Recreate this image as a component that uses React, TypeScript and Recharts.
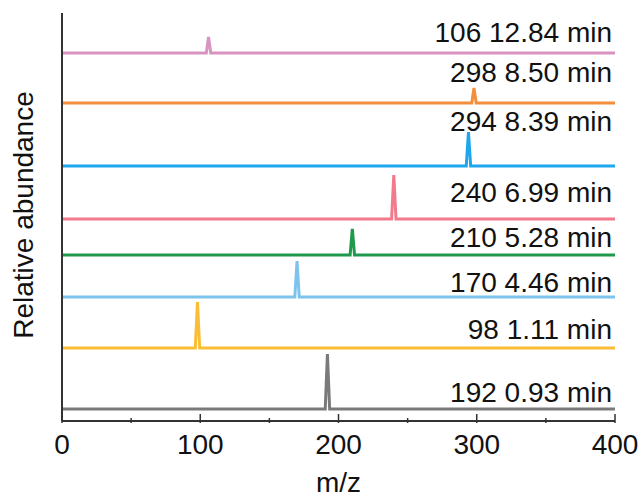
import React from 'react';
import {
  LineChart,
  Line,
  XAxis,
  YAxis,
  ReferenceDot,
  Label,
} from 'recharts';

// stacked mass spectra, bottom trace first
const peakMz = [192, 98, 170, 210, 240, 294, 298, 106];
const retentionMin = ['0.93', '1.11', '4.46', '5.28', '6.99', '8.39', '8.50', '12.84'];
const baselines = [12, 73, 124, 166, 202, 255, 318, 368];
const peakHeights = [55, 46, 36, 26, 44, 34, 15, 16];
const labelLevels = [29, 92, 139, 184, 229, 300, 349, 389];
const colors = ['#7a7a7a', '#fbbd35', '#7cc4ec', '#1f9a4c', '#f27a8c', '#1ea7ee', '#f28e3c', '#d993c0'];
const xTicks = [0, 50, 100, 150, 200, 250, 300, 350, 400];

const FONT = '"Liberation Sans", Arial, sans-serif';

const spectra = peakMz.map((mz, i) => [
  { mz: 0, v: baselines[i] },
  { mz: mz - 1.6, v: baselines[i] },
  { mz: mz, v: baselines[i] + peakHeights[i] },
  { mz: mz + 1.6, v: baselines[i] },
  { mz: 400, v: baselines[i] },
]);

const MzTick = (props: any) => {
  const { x, y, payload } = props;
  const major = payload.value % 100 === 0;
  return (
    <g>
      <line x1={x} x2={x} y1={y} y2={y - (major ? 9 : 5)} stroke="#333" strokeWidth={1.5} />
      {major && (
        <text x={x} y={y + 31} textAnchor="middle" fontSize={28} fill="#111" fontFamily={FONT}>
          {payload.value}
        </text>
      )}
    </g>
  );
};

export default function App() {
  return (
    <div style={{ position: 'absolute', left: 0, top: 0, background: '#fff' }}>
      <LineChart
        width={641}
        height={499}
        margin={{ top: 13, right: 26, left: 8, bottom: 0 }}
      >
        <XAxis
          dataKey="mz"
          type="number"
          domain={[0, 400]}
          ticks={xTicks}
          allowDataOverflow
          height={78}
          tickSize={0}
          tickLine={false}
          tick={<MzTick />}
          axisLine={{ stroke: '#333', strokeWidth: 2 }}
        >
          <Label
            content={(p: any) => {
              const vb = p.viewBox;
              return (
                <text x={vb.x + vb.width / 2} y={vb.y + 71} textAnchor="middle" fontSize={28} fill="#111" fontFamily={FONT}>
                  m/z
                </text>
              );
            }}
          />
        </XAxis>
        <XAxis
          xAxisId="top"
          orientation="top"
          type="number"
          domain={[0, 400]}
          height={0}
          tick={false}
          tickLine={false}
          axisLine={{ stroke: '#222', strokeWidth: 2 }}
        />
        <YAxis
          type="number"
          domain={[0, 408]}
          width={54}
          tick={false}
          tickLine={false}
          axisLine={{ stroke: '#333', strokeWidth: 2 }}
        >
          <Label
            content={(p: any) => {
              const vb = p.viewBox;
              const cx = 33;
              const cy = vb.y + vb.height / 2 - 2;
              return (
                <text
                  x={cx}
                  y={cy}
                  transform={`rotate(-90, ${cx}, ${cy})`}
                  textAnchor="middle"
                  fontSize={28}
                  fill="#111"
                  fontFamily={FONT}
                >
                  Relative abundance
                </text>
              );
            }}
          />
        </YAxis>
        <YAxis
          yAxisId="right"
          orientation="right"
          type="number"
          domain={[0, 408]}
          width={0}
          tick={false}
          tickLine={false}
          axisLine={{ stroke: '#333', strokeWidth: 2 }}
        />
        {spectra.map((d, i) => (
          <Line
            key={peakMz[i]}
            data={d}
            dataKey="v"
            type="linear"
            stroke={colors[i]}
            strokeWidth={3}
            dot={false}
            activeDot={false}
            isAnimationActive={false}
          />
        ))}
        {peakMz.map((mz, i) => (
          <ReferenceDot
            key={'lbl' + mz}
            x={400}
            y={labelLevels[i]}
            r={0}
            fill="none"
            stroke="none"
            label={{
              value: `${mz} ${retentionMin[i]} min`,
              position: 'left',
              offset: 3,
              fontSize: 28,
              fill: '#111',
              fontFamily: FONT,
            }}
          />
        ))}
      </LineChart>
    </div>
  );
}
